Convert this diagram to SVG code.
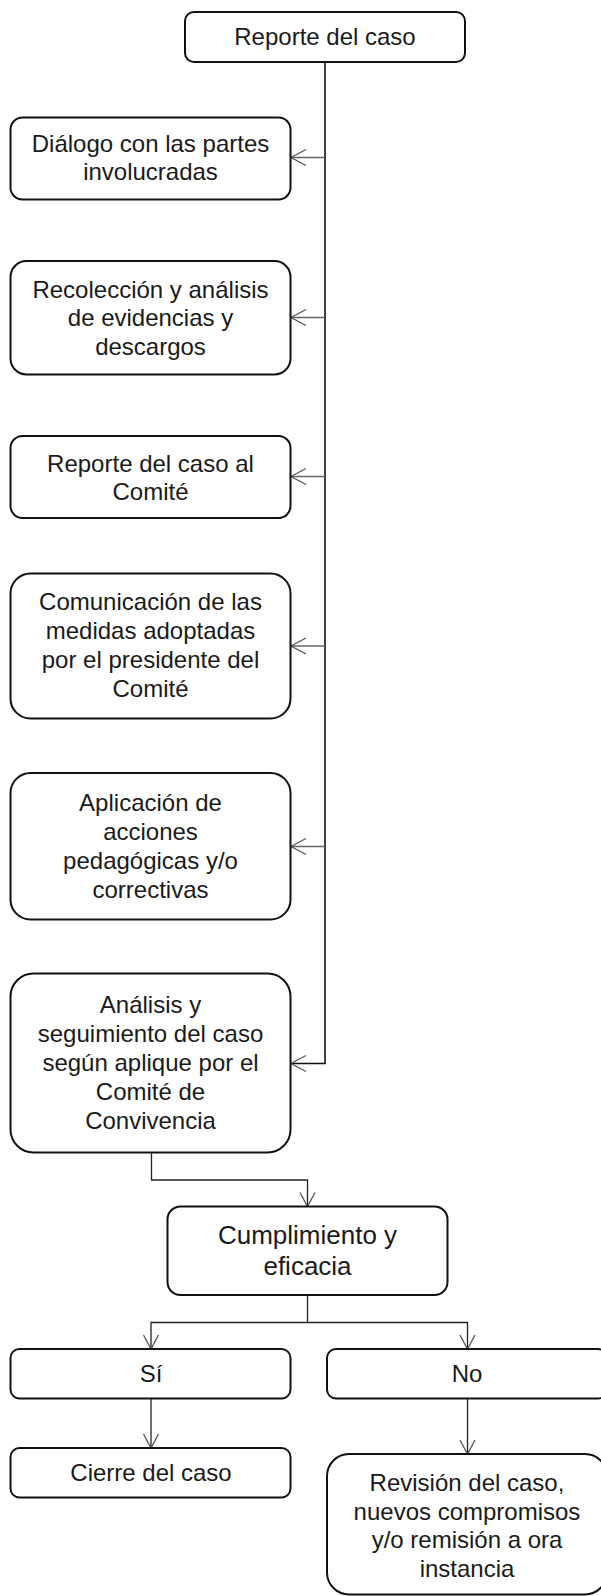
<svg xmlns="http://www.w3.org/2000/svg" width="601" height="1596" viewBox="0 0 601 1596">
<style>
.box{fill:#fff;stroke:#111;stroke-width:2}
.t{font-family:"Liberation Sans",Arial,sans-serif;font-size:24px;fill:#1a1a1a;text-anchor:middle}
.big{font-size:26px}
.trunk{fill:none;stroke:#111;stroke-width:1.6}
.ln{fill:none;stroke:#222;stroke-width:1.3}
.br{fill:none;stroke:#666;stroke-width:1.4}
.ah{fill:none;stroke:#555;stroke-width:1.3}
</style>
<rect width="601" height="1596" fill="#fff"/>
<g id="connectors">
  <path class="trunk" d="M325 62 V1063.5 H291"/>
  <path class="br" d="M325 157.5 H291"/>
  <path class="br" d="M325 317.5 H291"/>
  <path class="br" d="M325 476.5 H291"/>
  <path class="br" d="M325 646 H291"/>
  <path class="br" d="M325 846.5 H291"/>
  <path class="ah" d="M306 149.5 L291 157.5 L306 165.5"/>
  <path class="ah" d="M306 309.5 L291 317.5 L306 325.5"/>
  <path class="ah" d="M306 468.5 L291 476.5 L306 484.5"/>
  <path class="ah" d="M306 638 L291 646 L306 654"/>
  <path class="ah" d="M306 838.5 L291 846.5 L306 854.5"/>
  <path class="ah" d="M306 1055.5 L291 1063.5 L306 1071.5"/>
  <path class="ln" d="M151.5 1153 V1180 H307.5 V1206.5"/>
  <path class="ah" d="M300 1192.5 L307.5 1206.5 L315 1192.5"/>
  <path class="ln" d="M307.5 1295 V1322.5 M151 1349 V1322.5 H467.5 V1349"/>
  <path class="ah" d="M143.5 1335 L151 1349 L158.5 1335"/>
  <path class="ah" d="M460 1335 L467.5 1349 L475 1335"/>
  <path class="ln" d="M151 1398.5 V1448"/>
  <path class="ah" d="M143.5 1434 L151 1448 L158.5 1434"/>
  <path class="ln" d="M467.5 1398.5 V1454"/>
  <path class="ah" d="M460 1440 L467.5 1454 L475 1440"/>
</g>
<g id="n-reporte">
  <rect class="box" x="185" y="12" width="280" height="50" rx="9"/>
  <text class="t" x="325" y="45">Reporte del caso</text>
</g>
<g id="n-dialogo">
  <rect class="box" x="10.5" y="117.5" width="280" height="82" rx="12"/>
  <text class="t" x="150.5" y="151.5">Diálogo con las partes</text>
  <text class="t" x="150.5" y="180">involucradas</text>
</g>
<g id="n-recoleccion">
  <rect class="box" x="10.5" y="261" width="280" height="113.5" rx="16"/>
  <text class="t" x="150.5" y="297.5">Recolección y análisis</text>
  <text class="t" x="150.5" y="326">de evidencias y</text>
  <text class="t" x="150.5" y="354.5">descargos</text>
</g>
<g id="n-reporte-comite">
  <rect class="box" x="10.5" y="436" width="280" height="82" rx="12"/>
  <text class="t" x="150.5" y="471.5">Reporte del caso al</text>
  <text class="t" x="150.5" y="500">Comité</text>
</g>
<g id="n-comunicacion">
  <rect class="box" x="10.5" y="573.5" width="280" height="145" rx="20"/>
  <text class="t" x="150.5" y="610">Comunicación de las</text>
  <text class="t" x="150.5" y="639">medidas adoptadas</text>
  <text class="t" x="150.5" y="668">por el presidente del</text>
  <text class="t" x="150.5" y="697">Comité</text>
</g>
<g id="n-aplicacion">
  <rect class="box" x="10.5" y="773" width="280" height="146.5" rx="20"/>
  <text class="t" x="150.5" y="810.5">Aplicación de</text>
  <text class="t" x="150.5" y="839.5">acciones</text>
  <text class="t" x="150.5" y="868.5">pedagógicas y/o</text>
  <text class="t" x="150.5" y="897.5">correctivas</text>
</g>
<g id="n-analisis">
  <rect class="box" x="10.5" y="973.5" width="280" height="179" rx="23"/>
  <text class="t" x="150.5" y="1013">Análisis y</text>
  <text class="t" x="150.5" y="1042">seguimiento del caso</text>
  <text class="t" x="150.5" y="1071">según aplique por el</text>
  <text class="t" x="150.5" y="1100">Comité de</text>
  <text class="t" x="150.5" y="1128.5">Convivencia</text>
</g>
<g id="n-cumplimiento">
  <rect class="box" x="167.5" y="1206.5" width="280" height="88.5" rx="13"/>
  <text class="t big" x="307.5" y="1243.5">Cumplimiento y</text>
  <text class="t big" x="307.5" y="1275">eficacia</text>
</g>
<g id="n-si">
  <rect class="box" x="10.5" y="1349" width="280" height="49.5" rx="9"/>
  <text class="t" x="151" y="1381.5">Sí</text>
</g>
<g id="n-no">
  <rect class="box" x="327" y="1349" width="280" height="49.5" rx="9"/>
  <text class="t" x="467" y="1381.5">No</text>
</g>
<g id="n-cierre">
  <rect class="box" x="10.5" y="1448" width="280" height="49.5" rx="9"/>
  <text class="t" x="151" y="1481">Cierre del caso</text>
</g>
<g id="n-revision">
  <rect class="box" x="327" y="1454" width="280" height="140.5" rx="22"/>
  <text class="t" x="467" y="1491">Revisión del caso,</text>
  <text class="t" x="467" y="1519.5">nuevos compromisos</text>
  <text class="t" x="467" y="1548">y/o remisión a ora</text>
  <text class="t" x="467" y="1576.5">instancia</text>
</g>
</svg>
